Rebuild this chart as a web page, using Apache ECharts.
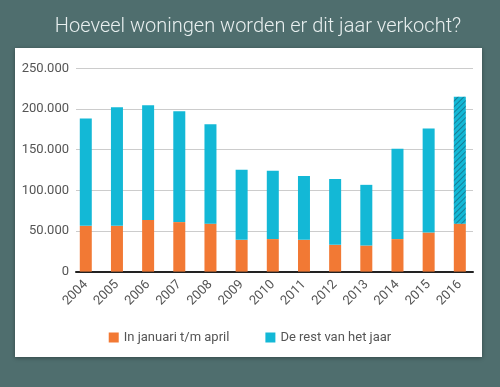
<!DOCTYPE html>
<html><head><meta charset="utf-8">
<script src="https://cdn.jsdelivr.net/npm/echarts@6/dist/echarts.min.js"></script>
<style>html,body{margin:0;padding:0;background:#4f6e6e;}#c{width:500px;height:387px;}</style>
</head><body><div id="c"></div>
<script>
var years = ['2004','2005','2006','2007','2008','2009','2010','2011','2012','2013','2014','2015','2016'];
var janApr = [56300,56300,63600,60900,59000,39100,40000,39100,32900,32100,40000,48100,59000];
var restOfYear = [132200,146000,141300,136400,122500,86400,84200,78600,81200,74700,111200,128000,156100];
var yTicks = [0,50000,100000,150000,200000,250000];
var seriesNames = ['In januari t/m april','De rest van het jaar'];
var titleText = 'Hoeveel woningen worden er dit jaar verkocht?';

var font = 'Roboto, sans-serif';
function fmt(v){ if(v===0) return '0'; return Math.floor(v/1000)+'.'+String(v%1000).padStart(3,'0'); }

var restData = restOfYear.map(function(v,i){
  if(i===restOfYear.length-1){
    return {value:v,itemStyle:{decal:{symbol:'rect',symbolSize:1,dashArrayX:[1,0],dashArrayY:[1,3],rotation:-Math.PI/4,color:'rgba(20,70,90,0.5)'}}};
  }
  return v;
});

var chart = echarts.init(document.getElementById('c'),null,{renderer:'canvas'});
chart.setOption({
  backgroundColor:'#4f6e6e',
  animation:false,
  graphic:[
    {type:'rect',z:-10,shape:{x:15,y:48,width:467,height:309},style:{fill:'#ffffff',shadowBlur:4,shadowColor:'rgba(0,0,0,0.35)',shadowOffsetY:1}},
    {type:'text',z:10,x:258,y:27,style:{text:titleText,fill:'#e8efef',font:'300 20px Roboto, sans-serif',textAlign:'center',textVerticalAlign:'middle'}}
  ],
  grid:[
    {left:70.2,right:24.6,top:68.5,bottom:115.4,containLabel:false},
    {left:76,right:27,top:68.5,bottom:115.4,containLabel:false}
  ],
  legend:{
    data:seriesNames,bottom:38,left:'center',icon:'rect',itemWidth:10,itemHeight:10,itemGap:36,
    textStyle:{color:'#555',fontFamily:font,fontSize:13}
  },
  xAxis:[
    {type:'category',gridIndex:0,data:years,axisLine:{show:false},axisTick:{show:false},
     axisLabel:{rotate:45,margin:11,color:'#555',fontFamily:font,fontSize:13,interval:0}},
    {type:'value',gridIndex:1,min:0,max:1,axisLine:{show:true,lineStyle:{color:'#222',width:2}},axisTick:{show:false},axisLabel:{show:false},splitLine:{show:false}}
  ],
  yAxis:[
    {type:'value',gridIndex:0,min:0,max:250000,interval:50000,show:false,splitLine:{show:false}},
    {type:'value',gridIndex:1,min:0,max:250000,interval:50000,axisLine:{show:false},axisTick:{show:false},
     splitLine:{lineStyle:{color:'#cccccc',width:1}},
     axisLabel:{color:'#555',fontFamily:font,fontSize:13,margin:7,formatter:fmt}}
  ],
  series:[
    {name:seriesNames[0],type:'bar',stack:'a',xAxisIndex:0,yAxisIndex:0,barWidth:12,data:janApr,itemStyle:{color:'#f27934'}},
    {name:seriesNames[1],type:'bar',stack:'a',xAxisIndex:0,yAxisIndex:0,barWidth:12,data:restData,itemStyle:{color:'#13b8d6'}}
  ]
});
</script></body></html>
